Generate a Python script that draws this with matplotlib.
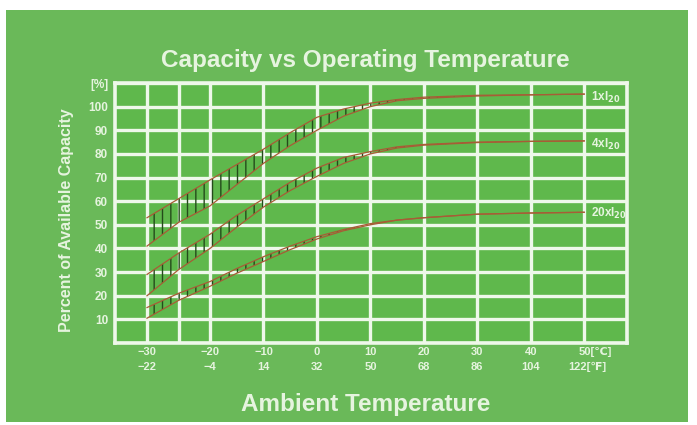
import numpy as np
import matplotlib
matplotlib.use("Agg")
import matplotlib.pyplot as plt
from matplotlib.patches import Rectangle
from matplotlib.transforms import blended_transform_factory

plt.rcParams["font.family"] = ["Liberation Sans", "DejaVu Sans"]
plt.rcParams["hatch.linewidth"] = 1.0
plt.rcParams["mathtext.default"] = "bf"

# ---------------------------------------------------------------- data
temp_c = [-30, -25, -20, -15, -10, -5, 0, 5, 10, 15, 20, 30, 40, 50]
i1_upper = [53, 61, 69, 75.5, 82, 89, 95.5, 99, 101.5, 103, 104, 104.8, 105, 105.3]
i1_lower = [41, 51, 58, 67, 76, 83.5, 90, 96, 100, 102.5, 103.5, 104.5, 105, 105.3]
i4_upper = [29, 38, 46, 54, 61, 68, 74, 78.5, 81, 83, 84, 85, 85.3, 85.5]
i4_lower = [20, 31, 40, 49, 57.5, 64.5, 70.5, 76, 80, 82.5, 83.7, 84.8, 85.3, 85.5]
i20_upper = [15, 21, 26, 31.5, 36.5, 41, 45, 48, 50.5, 52, 53, 54.5, 55, 55.3]
i20_lower = [10.5, 18, 24, 29.5, 34.5, 39.5, 44, 47.5, 50, 52, 53, 54.5, 55, 55.3]
series = [("1xI$_{20}$", i1_lower, i1_upper, 104),
          ("4xI$_{20}$", i4_lower, i4_upper, 84),
          ("20xI$_{20}$", i20_lower, i20_upper, 55)]

c_ticks = [-30, -20, -10, 0, 10, 20, 30, 40, 50]
c_labels = ["\u221230", "\u221220", "\u221210", "0", "10", "20", "30", "40", "50"]
f_labels = ["\u221222", "\u22124", "14", "32", "50", "68", "86", "104", "122"]
grid_x = [-30, -25, -20, -10, 0, 10, 20, 30, 40, 50]
y_ticks = list(range(0, 111, 10))
y_labels = [""] + [str(v) for v in range(10, 101, 10)] + ["[%]"]

# ---------------------------------------------------------------- style
BG = "#6ab959"
INNER = "#5fb84c"
GRID = "#eef8ea"
TXT = "#e6f4df"
CURVE = "#a85c36"
HATCH = "#244b1a"

# the printed scale is stretched between -30 and -20 degC
_d = [-135, -35, -30, -20, 158]
_p = [-640, 0, 32, 95, 1046.6]
def fwd(x):
    return np.interp(x, _d, _p)
def inv(p):
    return np.interp(p, _p, _d)

fig = plt.figure(figsize=(6.97, 4.25), dpi=100, facecolor="white")
fig.patches.append(Rectangle((0.009, 0.007), 0.978, 0.969, transform=fig.transFigure,
                             facecolor=BG, edgecolor="none", zorder=-10))

ax = fig.add_axes([115 / 697, 82 / 425, 512 / 697, 260 / 425])
ax.set_facecolor(INNER)
ax.set_xscale("function", functions=(fwd, inv))
ax.set_xlim(-35, 58)
ax.set_ylim(0, 110)

for name, lo, hi, ly in series:
    ax.fill_between(temp_c, lo, hi, facecolor="none", edgecolor=HATCH,
                    hatch="||", linewidth=0, zorder=2)
    ax.plot(temp_c, lo, color=CURVE, lw=0.9, zorder=3)
    ax.plot(temp_c, hi, color=CURVE, lw=0.9, zorder=3)
    ax.text(51.2, ly, name, color=TXT, fontsize=8.5, fontweight="bold",
            ha="left", va="center", zorder=4)

ax.set_xticks(grid_x)
ax.set_xticklabels([])
ax.set_yticks(y_ticks)
ax.set_yticklabels(y_labels, fontsize=8.5, fontweight="bold", color=TXT)
ax.tick_params(length=0, pad=5)
ax.grid(True, color=GRID, lw=2.4)
ax.set_axisbelow(True)
for s in ax.spines.values():
    s.set_color(GRID)
    s.set_linewidth(2.6)

tr = blended_transform_factory(ax.transData, ax.transAxes)
for x, cl, fl in zip(c_ticks, c_labels, f_labels):
    if x == 50:
        ax.text(x - 1, -0.035, cl + "[\u2103]", transform=tr, ha="left", va="center",
                fontsize=8, fontweight="bold", color=TXT)
        ax.text(x - 3, -0.092, fl + "[\u2109]", transform=tr, ha="left", va="center",
                fontsize=8, fontweight="bold", color=TXT)
        continue
    ax.text(x, -0.035, cl, transform=tr, ha="center", va="center",
            fontsize=8, fontweight="bold", color=TXT)
    ax.text(x, -0.092, fl, transform=tr, ha="center", va="center",
            fontsize=8, fontweight="bold", color=TXT)

fig.text(365 / 697, 1 - 60 / 425, "Capacity vs Operating Temperature", ha="center",
         va="center", fontsize=17.5, fontweight="bold", color=TXT)
fig.text(366 / 697, 1 - 404 / 425, "Ambient Temperature", ha="center", va="center",
         fontsize=17.5, fontweight="bold", color=TXT)
fig.text(66 / 697, 1 - 220 / 425, "Percent of Available Capacity", rotation=90,
         ha="center", va="center", fontsize=11.5, fontweight="bold", color=TXT)

fig.savefig("out.png", dpi=100, facecolor="white")
